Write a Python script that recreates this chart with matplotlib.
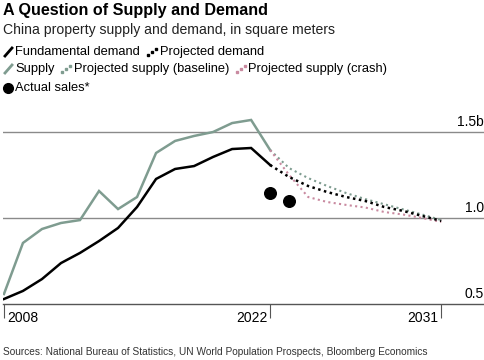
import matplotlib
matplotlib.use('Agg')
import matplotlib.pyplot as plt
import matplotlib.transforms as mtransforms
from matplotlib.lines import Line2D

plt.rcParams['font.family'] = ['Liberation Sans', 'DejaVu Sans']

# data (billion square meters)
years = list(range(2008, 2023))
supply = [0.558, 0.855, 0.936, 0.971, 0.988, 1.157, 1.052, 1.122, 1.378,
          1.448, 1.477, 1.500, 1.552, 1.570, 1.395]
demand = [0.529, 0.576, 0.645, 0.738, 0.797, 0.866, 0.942, 1.064, 1.227,
          1.285, 1.302, 1.355, 1.401, 1.407, 1.308]

proj_years = list(range(2022, 2032))
proj_demand = [1.308, 1.238, 1.186, 1.151, 1.122, 1.099, 1.064, 1.041, 1.012, 0.983]
proj_base = [1.395, 1.290, 1.232, 1.186, 1.145, 1.110, 1.080, 1.050, 1.020, 0.988]
proj_crash = [1.395, 1.250, 1.122, 1.093, 1.076, 1.061, 1.035, 1.020, 1.000, 0.977]

sales_years = [2022, 2023]
sales = [1.145, 1.099]

green = '#7f9c90'
pink = '#c98aa0'
grid = '#8a8a8a'

W, H = 485, 360
fig = plt.figure(figsize=(W / 100, H / 100), dpi=100)


def fx(px):
    return px / W


def fy(py):
    return 1 - py / H


ax = fig.add_axes([fx(3), fy(304), fx(482), (304 - 100) / H])
ax.set_xlim(2007.95, 2033.3)
ax.set_ylim(0.5, 0.5 + 204 / 172)
for s in ax.spines.values():
    s.set_visible(False)

for v in [1.0, 1.5]:
    ax.axhline(v, color=grid, lw=1.0, zorder=1)
ax.axhline(0.5, color='#555555', lw=1.0, zorder=1, clip_on=False)

ax.plot(years, supply, color=green, lw=1.8, zorder=3, solid_joinstyle='miter')
ax.plot(years, demand, color='black', lw=1.8, zorder=4, solid_joinstyle='miter')
ax.plot(proj_years, proj_base, color=green, lw=1.5, ls=(0, (1, 1.6)), zorder=3)
ax.plot(proj_years, proj_crash, color=pink, lw=1.5, ls=(0, (1, 1.6)), zorder=3)
ax.plot(proj_years, proj_demand, color='black', lw=1.8, ls=(0, (1, 1.4)), zorder=4)
ax.scatter(sales_years, sales, s=70, color='black', zorder=5)

ax.set_yticks([])
ax.set_xticks([2008, 2022, 2031])
ax.set_xticklabels([])
ax.tick_params(axis='x', length=10, width=0.8, color='#555555')

tr = mtransforms.blended_transform_factory(ax.transData, ax.transAxes)
off = 14 / 204
ax.text(2008 + 0.15, -off, '2008', transform=tr, ha='left', va='center', fontsize=10)
ax.text(2022 - 0.15, -off, '2022', transform=tr, ha='right', va='center', fontsize=10)
ax.text(2031 - 0.15, -off, '2031', transform=tr, ha='right', va='center', fontsize=10)

for v, lab in [(1.5, '1.5b'), (1.0, '1.0'), (0.5, '0.5')]:
    ax.text(0.998, v + 0.02, lab, transform=mtransforms.blended_transform_factory(ax.transAxes, ax.transData),
            ha='right', va='bottom', fontsize=10)

# titles
fig.text(fx(3), fy(11), 'A Question of Supply and Demand', fontsize=11.6,
         fontweight='bold', va='center', ha='left')
fig.text(fx(3), fy(30), 'China property supply and demand, in square meters',
         fontsize=10.1, va='center', ha='left', color='#222222')


# legend
def solid_icon(x, y, color):
    fig.add_artist(Line2D([fx(x), fx(x + 7)], [fy(y + 4), fy(y - 4)], color=color, lw=2.0))


def dotted_icon(x, y, color):
    fig.add_artist(Line2D([fx(x), fx(x + 4), fx(x + 8)], [fy(y + 3), fy(y), fy(y - 3)],
                          color=color, lw=0, marker='s', markersize=1.8))


leg_fs = 9.3
solid_icon(5, 52, 'black')
fig.text(fx(15), fy(52), 'Fundamental demand', fontsize=leg_fs, va='center')
dotted_icon(148, 52, 'black')
fig.text(fx(160), fy(52), 'Projected demand', fontsize=leg_fs, va='center')

solid_icon(5, 69, green)
fig.text(fx(15), fy(69), 'Supply', fontsize=leg_fs, va='center')
dotted_icon(62, 69, green)
fig.text(fx(74), fy(69), 'Projected supply (baseline)', fontsize=leg_fs, va='center')
dotted_icon(237, 69, pink)
fig.text(fx(248), fy(69), 'Projected supply (crash)', fontsize=leg_fs, va='center')

fig.add_artist(Line2D([fx(8.5)], [fy(88)], marker='o', markersize=7, color='black', lw=0))
fig.text(fx(15), fy(88), 'Actual sales*', fontsize=leg_fs, va='center')

fig.text(fx(3), fy(352), 'Sources: National Bureau of Statistics, UN World Population Prospects, Bloomberg Economics',
         fontsize=7.3, va='center', color='#333333')

fig.savefig('out.png', dpi=100)
